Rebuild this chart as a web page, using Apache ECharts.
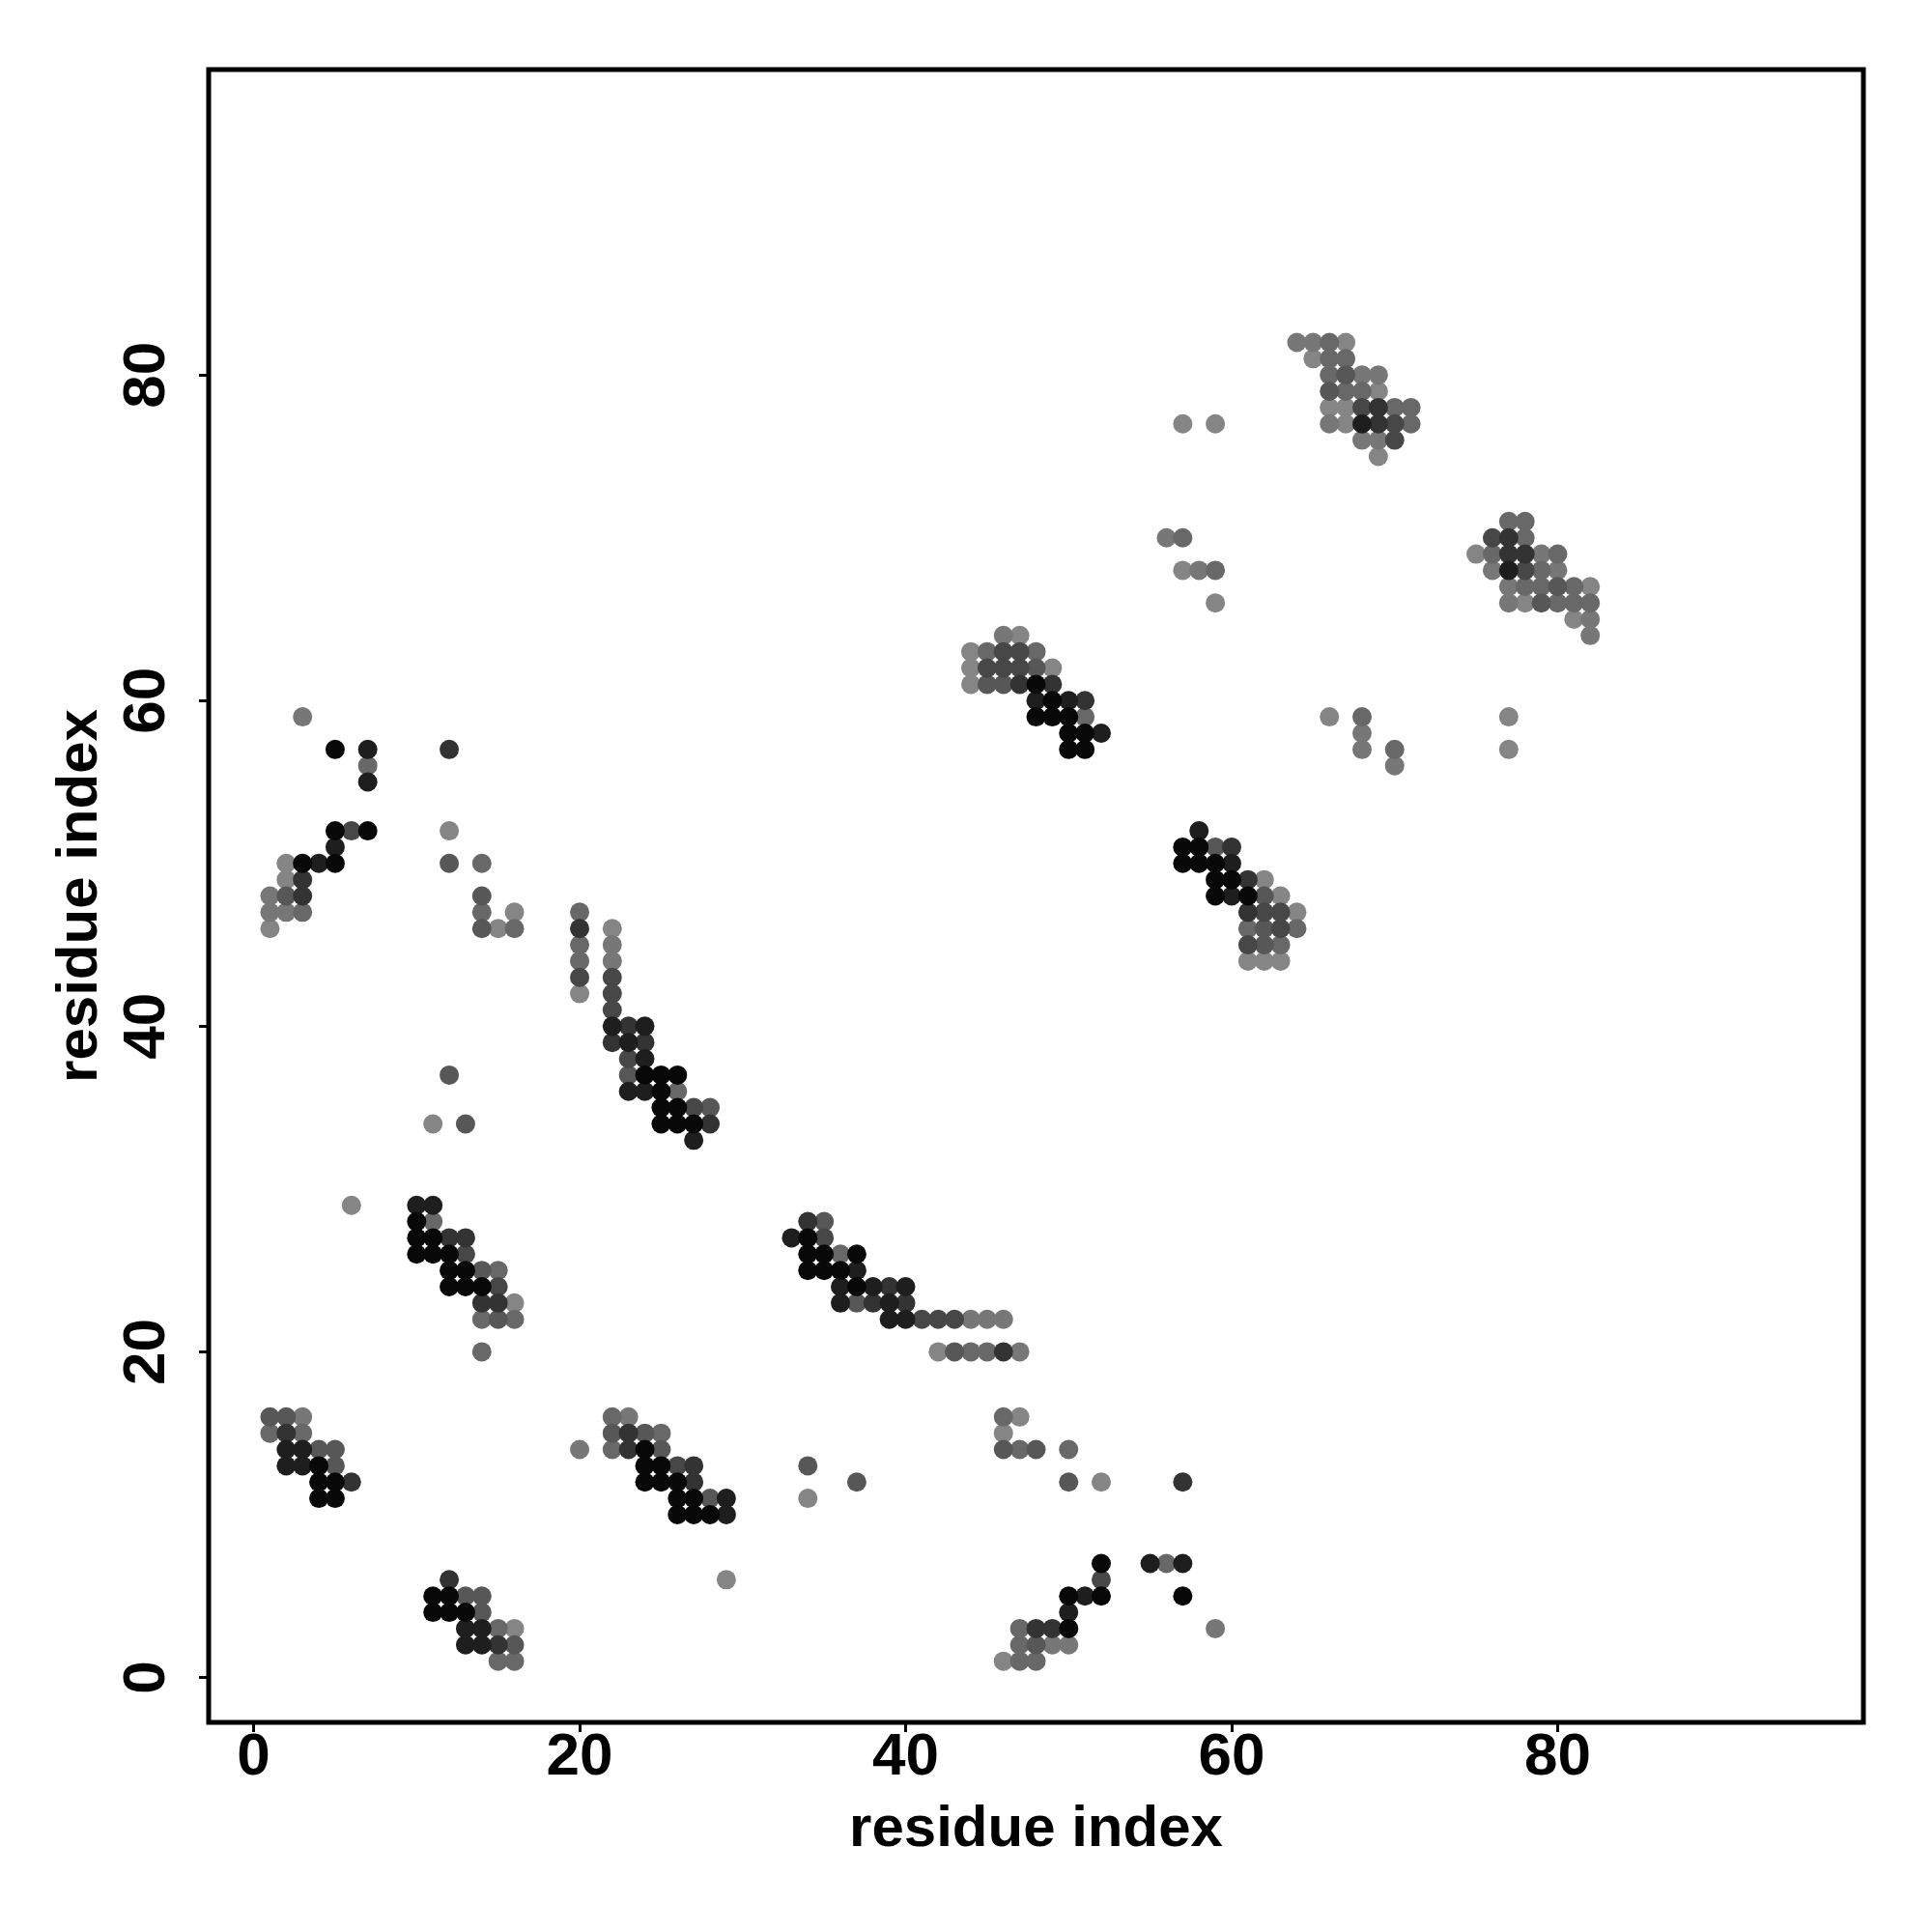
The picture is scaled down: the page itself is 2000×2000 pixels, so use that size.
<!DOCTYPE html>
<html>
<head>
<meta charset="utf-8">
<script src="https://cdn.jsdelivr.net/npm/echarts@6/dist/echarts.min.js"></script>
<style>html,body{margin:0;padding:0;background:#fff}#chart{width:2000px;height:2000px}</style>
</head>
<body>
<div id="chart"></div>
<script>
// Axis settings
const axisTitle = 'residue index';
const tickValues = [0, 20, 40, 60, 80];
const axisMin = -2.76;
const axisMax = 98.76;

// Contact points [residue i, residue j], grouped by grey level (0 = black ... 7 = lightest)
const shadeColors = ['#080808', '#1e1e1e', '#333333', '#474747', '#575757', '#686868', '#777777', '#858585'];

const contactsLevel0 = [
  [4,13],[4,12],[5,12],[4,11],[5,11],
  [11,5],[12,5],[11,4],[12,4],[13,4],
  [24,14],[24,13],[25,13],[24,12],[25,12],[26,12],[26,11],[27,11],[26,10],[27,10],[28,10],
  [52,7],[50,5],[52,5],[57,5],[50,3],
  [10,28],[10,27],[11,27],[10,26],[11,26],[12,26],[12,25],[13,25],[12,24],[13,24],[14,24],
  [24,37],[25,37],[25,36],[25,35],[25,34],[26,37],[26,35],[26,34],[27,34],
  [34,27],[34,26],[35,26],[37,26],[34,25],[35,25],[36,25],[37,24],
  [5,57],[5,52],[7,52],[3,50],[5,50],
  [48,61],[49,60],[48,59],[49,59],[50,59],[50,58],[51,58],[50,57],[51,57],
  [57,51],[58,51],[57,50],[58,50],[59,50],[59,49],[60,49],[59,48],[61,48]
];
const contactsLevel1 = [
  [2,14],[3,14],[2,13],[3,13],
  [13,3],[14,3],[13,2],[14,2],
  [29,11],[29,10],
  [55,7],[57,7],[51,5],[50,4],
  [10,29],[11,29],
  [22,40],[23,39],[23,36],[24,40],[24,38],[24,36],[27,33],
  [33,27],[37,25],[36,24],[38,24],[40,24],[36,23],[39,23],[39,22],[40,22],
  [7,57],[7,55],[5,51],[4,50],
  [48,60],[50,60],[52,58],
  [58,52],[60,50],[60,48],
  [77,68],[68,77]
];
const contactsLevel2 = [
  [2,15],[6,12],
  [12,6],[15,2],
  [23,15],[23,14],[27,13],[27,12],
  [57,12],[48,3],[49,3],
  [12,27],[13,27],[14,23],[15,23],
  [20,46],[22,39],[23,40],[24,39],[28,34],
  [34,28],[39,24],[38,23],[40,23],[46,20],
  [12,57],[3,49],[3,48],
  [47,61],[49,61],[51,60],
  [60,51],[61,49],[61,47],
  [77,70],[77,69],[78,69],[69,78],[69,77]
];
const contactsLevel3 = [
  [26,13],[52,6],[13,26],[15,24],
  [20,43],[22,43],[22,42],[22,41],[23,38],[27,35],
  [35,27],[41,22],[42,22],[43,22],
  [6,52],
  [46,63],[47,63],[45,62],[46,62],[47,62],
  [62,47],[63,47],[63,46],[61,45],
  [76,70],[78,68],[68,78],[70,77],[70,76]
];
const contactsLevel4 = [
  [1,16],[2,16],[4,14],[5,14],[5,13],
  [13,5],[14,5],[14,4],[16,2],
  [22,15],[24,15],[25,14],[28,11],[34,13],[37,12],
  [46,14],[48,14],[50,12],[48,2],
  [12,37],[13,34],[14,25],[15,22],
  [23,37],[28,35],[35,28],[37,23],[43,20],
  [12,50],[2,48],[14,48],[14,46],
  [48,62],[45,61],[46,61],
  [59,51],[62,48],[62,46],[62,45],
  [80,67],[79,66],[67,80],[66,79]
];
const contactsLevel5 = [
  [1,15],[3,15],
  [15,1],[16,1],[15,3],
  [22,16],[25,15],[22,14],
  [46,16],[47,14],[50,14],[56,7],[47,3],[47,2],[47,1],[48,1],
  [11,28],[15,25],[14,22],[16,22],[14,20],
  [20,47],[20,45],[20,44],[26,36],
  [36,26],[44,20],[45,20],
  [7,56],[14,50],[3,47],[14,47],[16,46],
  [45,63],[48,63],[51,59],
  [61,46],[64,46],[63,45],
  [57,70],[59,68],[68,59],[70,57],
  [77,71],[78,71],[78,70],[76,69],[80,69],[79,68],[78,67],[79,67],[81,67],[80,66],[81,66],[82,66],
  [66,82],[66,81],[67,81],[66,80],[67,79],[68,79],[70,78],[71,78],[71,77]
];
const contactsLevel6 = [
  [3,16],[20,14],
  [23,16],[49,2],[50,2],[59,3],
  [22,45],[22,44],
  [44,22],[45,22],[46,22],[47,20],
  [3,59],[1,48],[1,47],[2,47],
  [46,64],
  [56,70],[58,68],[68,58],[68,57],[70,56],
  [79,69],[76,68],[80,68],[77,67],[77,66],[82,65],[82,64],
  [64,82],[65,82],[68,80],[69,80],[66,77],[68,76],[69,76]
];
const contactsLevel7 = [
  [16,3],[29,6],[34,11],
  [47,16],[46,15],[52,12],[46,1],
  [11,34],[6,29],[16,23],
  [20,42],[22,46],[42,20],
  [12,52],[2,50],[2,49],[1,46],[16,47],[15,46],
  [47,64],[44,63],[44,62],[49,62],[44,61],
  [62,49],[63,48],[64,47],[61,44],[62,44],[63,44],
  [57,68],[59,66],[66,59],[77,59],[77,57],
  [75,69],[82,67],[78,66],[81,65],
  [57,77],[59,77],[67,82],[65,81],[69,79],[66,78],[67,78],[67,77],[69,75]
];

const contactLevels = [contactsLevel0, contactsLevel1, contactsLevel2, contactsLevel3,
                       contactsLevel4, contactsLevel5, contactsLevel6, contactsLevel7];

const FONT = 'Liberation Sans';
const chart = echarts.init(document.getElementById('chart'), null, {renderer: 'canvas'});

const series = [];
for (let lv = contactLevels.length - 1; lv >= 0; lv--) {
  series.push({
    type: 'scatter',
    name: 'level' + lv,
    data: contactLevels[lv],
    symbol: 'circle',
    symbolSize: 20,
    itemStyle: {color: shadeColors[lv], opacity: 1},
    silent: true
  });
}

function axisCommon(isY) {
  return {
    type: 'value',
    min: axisMin,
    max: axisMax,
    name: axisTitle,
    nameLocation: 'middle',
    nameGap: isY ? 103 : 81,
    nameTextStyle: {fontFamily: FONT, fontWeight: 'bold', fontSize: 60, color: '#000'},
    axisLine: {show: false, onZero: false},
    splitLine: {show: false},
    axisTick: {show: true, inside: false, length: 10, customValues: tickValues,
               lineStyle: {color: '#000', width: 3}},
    axisLabel: {show: true, customValues: tickValues, rotate: isY ? 90 : 0,
                margin: isY ? 32 : 6,
                fontFamily: FONT, fontWeight: 'bold', fontSize: 62, color: '#000'}
  };
}

chart.setOption({
  animation: false,
  backgroundColor: '#ffffff',
  grid: {left: 216, top: 72, right: 71, bottom: 217, show: true,
         borderColor: '#000', borderWidth: 5, backgroundColor: 'transparent'},
  xAxis: axisCommon(false),
  yAxis: axisCommon(true),
  series: series
});
</script>
</body>
</html>
